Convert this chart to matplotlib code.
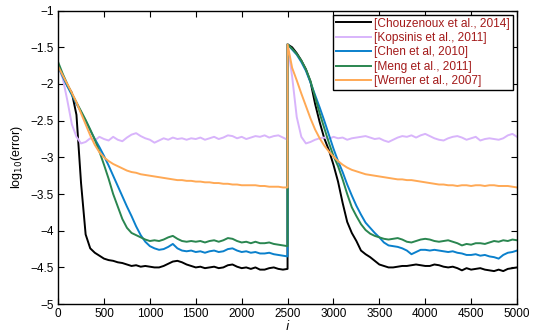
import numpy as np
import matplotlib.pyplot as plt

plt.rcParams['font.family'] = ['Liberation Sans', 'DejaVu Sans']

# iteration grid for the two halves (change point at i = 2500)
iters_a = list(range(0, 2501, 50))
iters_b = list(range(2500, 5001, 50))

chouzenoux_a = [-1.75, -1.88, -2.02, -2.12, -2.42, -3.35, -4.05, -4.24, -4.30, -4.34,
                -4.38, -4.40, -4.41, -4.43, -4.44, -4.46, -4.48, -4.47, -4.49, -4.48,
                -4.49, -4.50, -4.50, -4.48, -4.45, -4.42, -4.41, -4.43, -4.46, -4.48,
                -4.50, -4.49, -4.51, -4.50, -4.49, -4.51, -4.50, -4.47, -4.46, -4.49,
                -4.51, -4.50, -4.52, -4.50, -4.53, -4.53, -4.51, -4.50, -4.52, -4.53,
                -4.52]
chouzenoux_b = [-1.46, -1.50, -1.58, -1.68, -1.80, -1.97, -2.27, -2.52, -2.74, -2.90,
                -3.10, -3.33, -3.62, -3.88, -4.03, -4.14, -4.27, -4.32, -4.36, -4.41,
                -4.46, -4.48, -4.50, -4.50, -4.49, -4.48, -4.48, -4.47, -4.46, -4.47,
                -4.48, -4.48, -4.46, -4.47, -4.49, -4.50, -4.49, -4.51, -4.54, -4.51,
                -4.53, -4.52, -4.51, -4.53, -4.54, -4.55, -4.53, -4.55, -4.52, -4.51,
                -4.50]

kopsinis_a = [-1.75, -1.92, -2.22, -2.55, -2.72, -2.81, -2.79, -2.74, -2.77, -2.72,
              -2.75, -2.77, -2.72, -2.76, -2.78, -2.73, -2.69, -2.67, -2.71, -2.74,
              -2.76, -2.80, -2.77, -2.74, -2.76, -2.73, -2.75, -2.74, -2.76, -2.74,
              -2.75, -2.73, -2.76, -2.74, -2.72, -2.75, -2.73, -2.70, -2.71, -2.74,
              -2.72, -2.75, -2.73, -2.71, -2.72, -2.70, -2.73, -2.71, -2.70, -2.73,
              -2.76]
kopsinis_b = [-1.46, -1.90, -2.45, -2.72, -2.81, -2.79, -2.76, -2.74, -2.73, -2.75,
              -2.72, -2.74, -2.73, -2.76, -2.74, -2.73, -2.72, -2.71, -2.73, -2.75,
              -2.74, -2.77, -2.79, -2.76, -2.73, -2.71, -2.72, -2.70, -2.73, -2.70,
              -2.68, -2.71, -2.74, -2.76, -2.77, -2.74, -2.72, -2.71, -2.73, -2.76,
              -2.74, -2.72, -2.77, -2.75, -2.74, -2.75, -2.76, -2.74, -2.70, -2.68,
              -2.72]

chen_a = [-1.76, -1.90, -2.03, -2.15, -2.27, -2.38, -2.50, -2.63, -2.75, -2.86,
          -2.98, -3.11, -3.25, -3.39, -3.53, -3.67, -3.80, -3.94, -4.06, -4.15,
          -4.21, -4.24, -4.26, -4.25, -4.22, -4.18, -4.24, -4.27, -4.28, -4.27,
          -4.29, -4.28, -4.30, -4.28, -4.27, -4.29, -4.28, -4.25, -4.24, -4.27,
          -4.29, -4.28, -4.30, -4.29, -4.31, -4.31, -4.30, -4.32, -4.33, -4.34,
          -4.35]
chen_b = [-1.46, -1.53, -1.60, -1.70, -1.82, -1.98, -2.15, -2.32, -2.50, -2.69,
          -2.88, -3.05, -3.20, -3.37, -3.52, -3.66, -3.78, -3.89, -3.96, -4.03,
          -4.09, -4.16, -4.20, -4.21, -4.22, -4.24, -4.27, -4.32, -4.29, -4.26,
          -4.26, -4.27, -4.26, -4.27, -4.28, -4.29, -4.28, -4.30, -4.31, -4.33,
          -4.33, -4.32, -4.34, -4.33, -4.35, -4.36, -4.38, -4.33, -4.30, -4.29,
          -4.27]

meng_a = [-1.70, -1.86, -2.00, -2.13, -2.25, -2.37, -2.49, -2.62, -2.76, -2.92,
          -3.10, -3.29, -3.50, -3.67, -3.84, -3.96, -4.03, -4.06, -4.09, -4.12,
          -4.14, -4.13, -4.14, -4.12, -4.09, -4.07, -4.11, -4.14, -4.15, -4.14,
          -4.15, -4.14, -4.16, -4.14, -4.13, -4.15, -4.13, -4.10, -4.11, -4.14,
          -4.16, -4.15, -4.17, -4.15, -4.17, -4.17, -4.16, -4.18, -4.19, -4.20,
          -4.21]
meng_b = [-1.46, -1.52, -1.59, -1.68, -1.80, -1.96, -2.18, -2.40, -2.60, -2.80,
          -2.98, -3.12, -3.30, -3.50, -3.68, -3.80, -3.91, -3.99, -4.04, -4.07,
          -4.09, -4.11, -4.12, -4.11, -4.10, -4.12, -4.15, -4.16, -4.14, -4.12,
          -4.11, -4.12, -4.14, -4.15, -4.14, -4.13, -4.15, -4.17, -4.20, -4.18,
          -4.19, -4.17, -4.17, -4.18, -4.16, -4.14, -4.15, -4.13, -4.14, -4.12,
          -4.13]

werner_a = [-1.76, -1.88, -2.00, -2.12, -2.25, -2.40, -2.55, -2.70, -2.83, -2.93,
            -3.00, -3.05, -3.09, -3.12, -3.15, -3.18, -3.20, -3.21, -3.23, -3.24,
            -3.25, -3.26, -3.27, -3.28, -3.29, -3.30, -3.31, -3.31, -3.32, -3.32,
            -3.33, -3.33, -3.34, -3.34, -3.35, -3.35, -3.36, -3.36, -3.37, -3.37,
            -3.38, -3.38, -3.38, -3.38, -3.39, -3.39, -3.40, -3.40, -3.40, -3.41,
            -3.41]
werner_b = [-1.46, -1.78, -1.95, -2.13, -2.30, -2.47, -2.62, -2.74, -2.84, -2.92,
            -2.99, -3.05, -3.10, -3.14, -3.17, -3.19, -3.21, -3.23, -3.24, -3.25,
            -3.26, -3.27, -3.28, -3.29, -3.30, -3.30, -3.31, -3.31, -3.32, -3.33,
            -3.34, -3.35, -3.36, -3.37, -3.37, -3.38, -3.38, -3.39, -3.38, -3.38,
            -3.39, -3.38, -3.38, -3.39, -3.38, -3.38, -3.39, -3.39, -3.39, -3.40,
            -3.41]

labels = ["[Chouzenoux et al., 2014]", "[Kopsinis et al., 2011]",
          "[Chen et al, 2010]", "[Meng et al., 2011]", "[Werner et al., 2007]"]
colors = ["#000000", "#d8b4fb", "#0a80cc", "#2a8650", "#ffa955"]
series = [(chouzenoux_a, chouzenoux_b), (kopsinis_a, kopsinis_b),
          (chen_a, chen_b), (meng_a, meng_b), (werner_a, werner_b)]

fig = plt.figure(figsize=(5.33, 3.32), dpi=100)
ax = fig.add_axes([0.109, 0.084, 0.861, 0.884])

x_all = iters_a + iters_b
for (ya, yb), c, lab in zip(series, colors, labels):
    ax.plot(x_all, ya + yb, color=c, lw=1.4, label=lab)

ax.set_xlim(0, 5000)
ax.set_ylim(-5, -1)
ax.set_xticks(range(0, 5001, 500))
ax.set_yticks([-5, -4.5, -4, -3.5, -3, -2.5, -2, -1.5, -1])
ax.set_yticklabels(["\u22125", "\u22124.5", "\u22124", "\u22123.5", "\u22123",
                    "\u22122.5", "\u22122", "\u22121.5", "\u22121"])
ax.tick_params(direction='in', top=True, right=True, length=4, width=0.8,
               labelsize=8.5, pad=3)
for s in ax.spines.values():
    s.set_linewidth(1.0)

ax.set_xlabel("$i$", fontsize=9, labelpad=-1)
ax.set_ylabel("log$_{10}$(error)", fontsize=9, labelpad=4)

leg = ax.legend(loc='upper right', fontsize=8.6, handlelength=2.9,
                borderaxespad=0.33, borderpad=0.25, labelspacing=0.2,
                handletextpad=0.3, fancybox=False, framealpha=1)
leg.get_frame().set_edgecolor('black')
leg.get_frame().set_linewidth(1.0)
for t in leg.get_texts():
    t.set_color('#a31a1a')

fig.savefig("out.png", dpi=100)
